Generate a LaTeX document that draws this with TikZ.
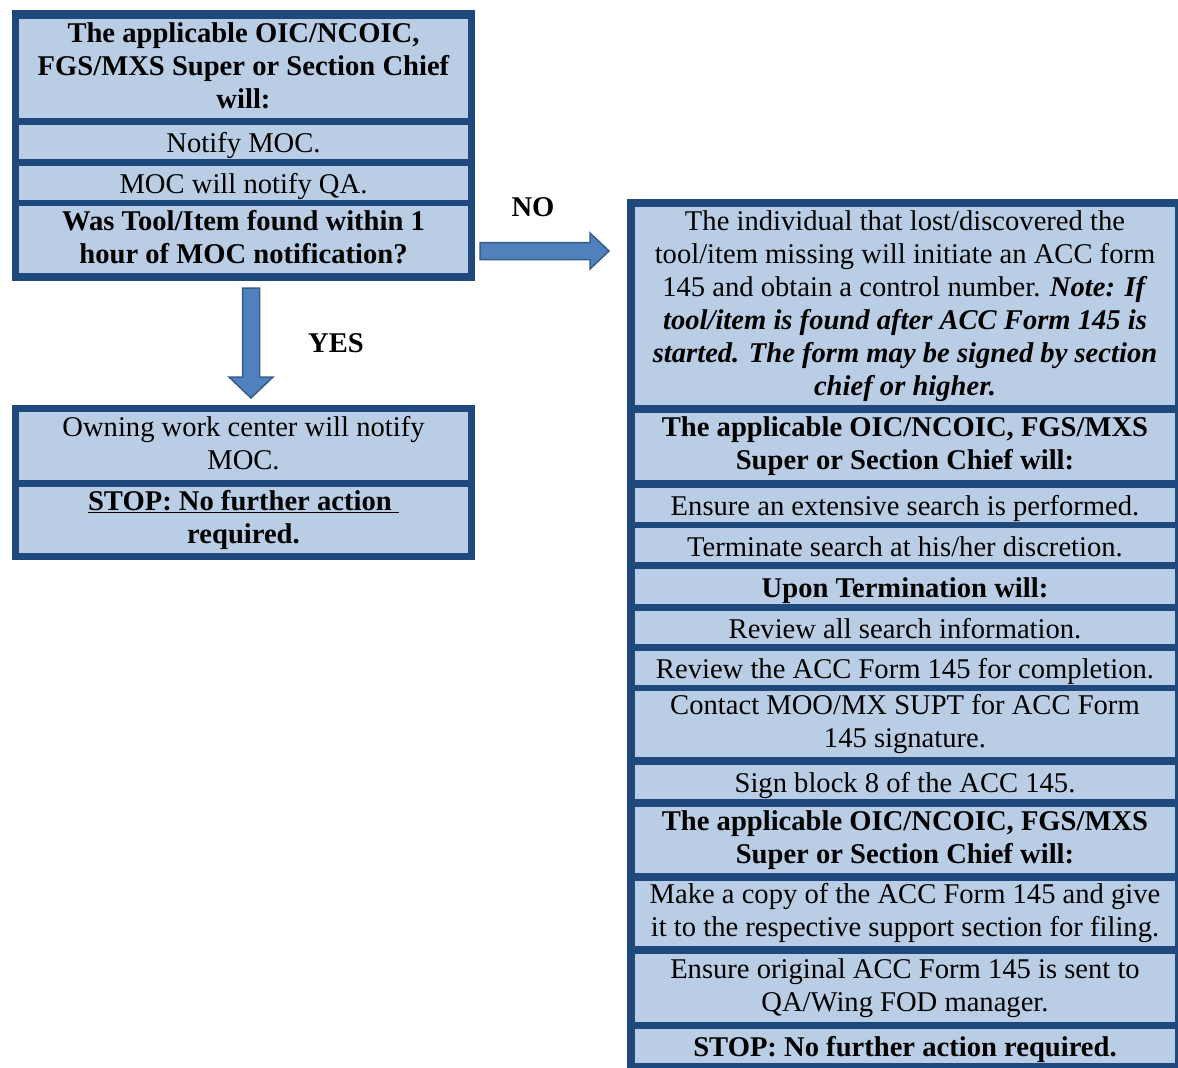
\documentclass[tikz,border=0pt]{standalone}
\usepackage{fontspec}
\setmainfont{Liberation Serif}
\definecolor{frameblue}{HTML}{1F497D}
\definecolor{cellfill}{HTML}{B9CDE5}
\definecolor{arrowfill}{HTML}{4F81BD}
\definecolor{arrowline}{HTML}{385D8A}
\newcommand{\topstrut}{\rule{0pt}{27.5pt}}
\newcommand{\botstrut}{\rule[-5.5pt]{0pt}{5.5pt}}
\begin{document}
\begin{tikzpicture}[x=1pt,y=-1pt,
  framebox/.style={fill=frameblue, anchor=north west, inner sep=0pt, outer sep=0pt},
  cell/.style={fill=cellfill, anchor=north west, inner sep=0pt, outer sep=0pt,
    align=center, font=\fontsize{28.6}{33}\selectfont,
    execute at begin node=\topstrut, execute at end node=\botstrut},
  lcell/.style={cell, minimum width=449pt},
  rcell/.style={cell, minimum width=540pt},
  lbl/.style={inner sep=0pt, font=\fontsize{28.6}{33}\selectfont\bfseries},
  bigarrow/.style={fill=arrowfill, draw=arrowline, line width=1.5pt, line join=miter}
]
\fill[white] (0,0) rectangle (1178,1068);
\useasboundingbox (0,0) rectangle (1178,1068);

% left top box
\node[framebox, minimum width=463pt, minimum height=271pt] (A) at (12,10) {};
\node[lcell, minimum height=99pt] (a1) at (19,19) {\bfseries The applicable OIC/NCOIC,\\ \bfseries FGS/MXS Super or Section Chief\\ \bfseries will:};
\node[lcell, minimum height=33pt] (a2) at (19,125) {Notify MOC.};
\node[lcell, minimum height=33pt] (a3) at (19,166) {MOC will notify QA.};
\node[lcell, minimum height=67pt] (a4) at (19,206) {\bfseries Was Tool/Item found within 1\\ \bfseries hour of MOC notification?};

% left bottom box
\node[framebox, minimum width=463pt, minimum height=155pt] (B) at (12,405) {};
\node[lcell, minimum height=68pt] (b1) at (19,412) {Owning work center will notify\\ MOC.};
\node[lcell, minimum height=66pt] (b2) at (19,487) {\bfseries\underline{STOP: No further action\ }\\ \bfseries required.};

% right box
\node[framebox, minimum width=555pt, minimum height=875pt] (C) at (627,199) {};
\node[rcell, minimum height=198pt] (c1) at (635,207) {The individual that lost/discovered the\\ tool/item missing will initiate an ACC form\\ 145 and obtain a control number. \textbf{\textit{Note: If}}\\ \bfseries\itshape tool/item is found after ACC Form 145 is\\ \bfseries\itshape started. The form may be signed by section\\ \bfseries\itshape chief or higher.};
\node[rcell, minimum height=67pt] (c2) at (635,413) {\bfseries The applicable OIC/NCOIC, FGS/MXS\\ \bfseries Super or Section Chief will:};
\node[rcell, minimum height=32pt] (c3) at (635,488) {Ensure an extensive search is performed.};
\node[rcell, minimum height=34pt] (c4) at (635,528) {Terminate search at his/her discretion.};
\node[rcell, minimum height=35pt] (c5) at (635,569) {\bfseries Upon Termination will:};
\node[rcell, minimum height=32pt] (c6) at (635,611) {Review all search information.};
\node[rcell, minimum height=31pt] (c7) at (635,651) {Review the ACC Form 145 for completion.};
\node[rcell, minimum height=66pt] (c8) at (635,691) {Contact MOO/MX SUPT for ACC Form\\ 145 signature.};
\node[rcell, minimum height=34pt] (c9) at (635,765) {Sign block 8 of the ACC 145.};
\node[rcell, minimum height=66pt] (c10) at (635,807) {\bfseries The applicable OIC/NCOIC, FGS/MXS\\ \bfseries Super or Section Chief will:};
\node[rcell, minimum height=65pt] (c11) at (635,881) {Make a copy of the ACC Form 145 and give\\ it to the respective support section for filing.};
\node[rcell, minimum height=68pt] (c12) at (635,954) {Ensure original ACC Form 145 is sent to\\ QA/Wing FOD manager.};
\node[rcell, minimum height=32pt] (c13) at (635,1029) {\bfseries STOP: No further action required.};

% arrows
\coordinate (yesx) at (251,0);
\coordinate (noy) at (0,251);
\coordinate (yt) at (A.south -| yesx);
\coordinate (yb) at (B.north -| yesx);
\draw[bigarrow] ([shift={(-8.5,7)}]yt) -- ([shift={(8.5,7)}]yt) -- ([shift={(8.5,-28)}]yb) -- ([shift={(22,-28)}]yb) -- ([shift={(0,-7)}]yb) -- ([shift={(-22,-28)}]yb) -- ([shift={(-8.5,-28)}]yb) -- cycle;
\coordinate (nl) at (A.east |- noy);
\coordinate (nr) at (C.west |- noy);
\draw[bigarrow] ([shift={(5,-8.5)}]nl) -- ([shift={(-37,-8.5)}]nr) -- ([shift={(-37,-18)}]nr) -- ([shift={(-18,0)}]nr) -- ([shift={(-37,18)}]nr) -- ([shift={(-37,8.5)}]nr) -- ([shift={(5,8.5)}]nl) -- cycle;

% labels
\node[lbl] (yes) at (336,343) {YES};
\node[lbl] (no) at (533,207) {NO};
\end{tikzpicture}
\end{document}
